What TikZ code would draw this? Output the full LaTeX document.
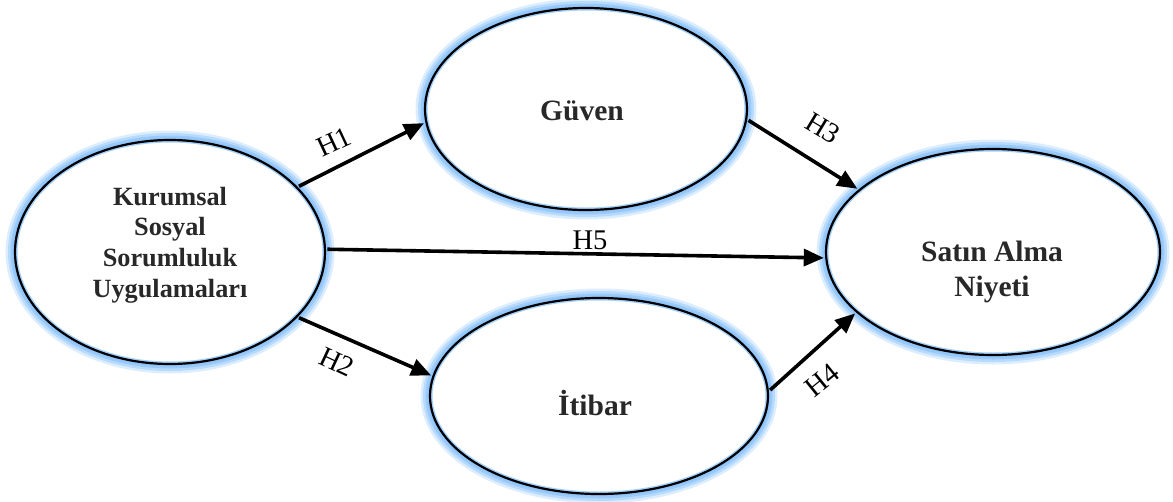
\documentclass[tikz,border=0pt]{standalone}
\usepackage{fontspec}
\setmainfont{Liberation Serif}
\usetikzlibrary{shapes.geometric,arrows.meta}
\definecolor{glowblue}{RGB}{140,195,250}
\definecolor{textgrey}{RGB}{40,40,40}
\begin{document}
\begin{tikzpicture}[x=1pt,y=-1pt,
  construct/.style={ellipse, inner sep=0pt,
    preaction={draw=glowblue, line width=19pt, draw opacity=0.3},
    preaction={draw=glowblue, line width=14pt, draw opacity=0.45},
    preaction={draw=glowblue, line width=9pt, draw opacity=0.7},
    fill=white, draw=glowblue, line width=5pt, draw opacity=0.8,
    postaction={draw=black, draw opacity=1, line width=2.2pt}},
  ctext/.style={font=\fontsize{29.5}{35}\selectfont\bfseries, text=textgrey,
    align=center, inner sep=0pt},
  path/.style={draw=black, line width=3.6pt, -{Triangle[length=20pt,width=17pt]}},
  hlabel/.style={font=\fontsize{28.5}{30}\selectfont, text=black, inner sep=0pt}]
  \useasboundingbox (0,0) rectangle (1173,501);
  % constructs
  \node[construct, minimum width=310pt, minimum height=224pt] (ksr) at (170,252) {};
  \node[construct, minimum width=322pt, minimum height=202pt] (guv) at (586,109) {};
  \node[construct, minimum width=338pt, minimum height=196pt] (iti) at (599,396) {};
  \node[construct, minimum width=334pt, minimum height=206pt] (sat) at (993,252) {};
  % construct names
  \node[ctext, font=\fontsize{26.3}{30.7}\selectfont\bfseries] (ksr-t) at (170,245)
    {Kurumsal\\Sosyal\\Sorumluluk\\Uygulamaları};
  \node[ctext] (guv-t) at (582,111) {Güven};
  \node[ctext] (iti-t) at (595,403) {İtibar};
  \node[ctext] (sat-t) at (992,272) {Satın Alma\\Niyeti};
  % hypothesised paths
  \draw[path] (ksr.27.5) -- (guv.185.4);
  \draw[path] (ksr.333.8) -- (iti.173.8);
  \draw[path] (guv.356) -- (sat.155);
  \draw[path] (iti.2.8) -- (sat.204.5);
  \draw[path] (ksr.1.5) -- (sat.182.7);
  % path labels
  \node[hlabel, rotate=25] (h1) at (334,142) {H1};
  \node[hlabel, rotate=-25] (h2) at (337,362) {H2};
  \node[hlabel, rotate=-31] (h3) at (823,128) {H3};
  \node[hlabel, rotate=39] (h4) at (822,380) {H4};
  \node[hlabel] (h5) at (590,240) {H5};
\end{tikzpicture}
\end{document}
